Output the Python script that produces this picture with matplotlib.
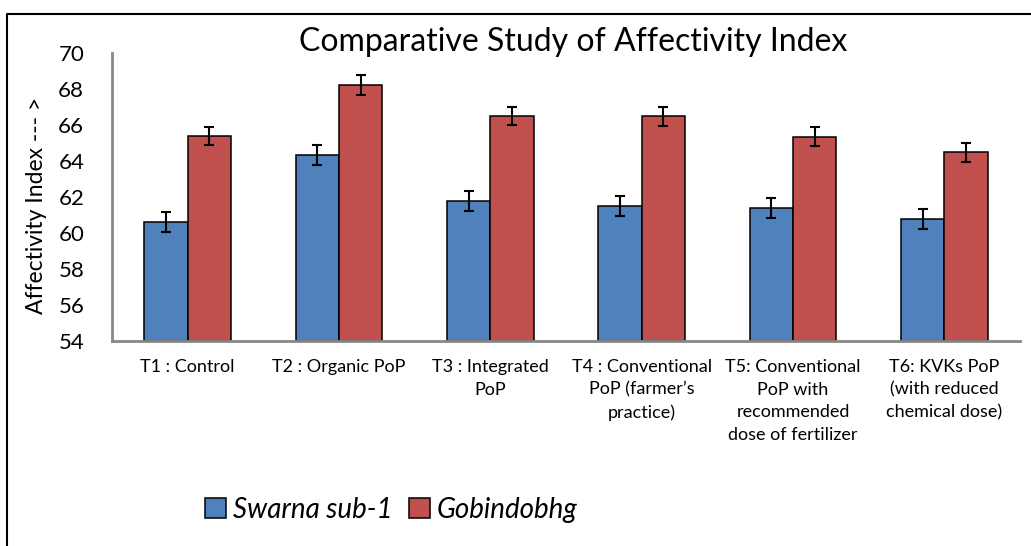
import matplotlib.pyplot as plt
from matplotlib.lines import Line2D
import numpy as np

plt.rcParams['font.family'] = ['Lato', 'DejaVu Sans']

# treatments (x axis)
treatments = ["T1 : Control", "T2 : Organic PoP", "T3 : Integrated\nPoP",
              "T4 : Conventional\nPoP (farmer\u2019s\npractice)",
              "T5: Conventional\nPoP with\nrecommended\ndose of fertilizer",
              "T6: KVKs PoP\n(with reduced\nchemical dose)"]

# affectivity index values
swarna = [60.63, 64.33, 61.78, 61.48, 61.41, 60.80]
gobindobhg = [65.39, 68.22, 66.50, 66.48, 65.35, 64.48]
swarna_err = [0.55, 0.55, 0.55, 0.55, 0.55, 0.55]
gobindobhg_err = [0.52, 0.54, 0.52, 0.52, 0.52, 0.54]

yticks = [54, 56, 58, 60, 62, 64, 66, 68, 70]

fig = plt.figure(figsize=(10.31, 5.46), dpi=100)
ax = fig.add_axes([112/1031, 1-341/546, (1020-112)/1031, (341-53)/546])

x = np.arange(len(treatments))
w = 0.287
err_style = dict(ecolor="black", elinewidth=1.5, capsize=3.8, capthick=1.5)
ax.bar(x - w/2, [v - 54 for v in swarna], w, bottom=54, color="#4F81BD",
       edgecolor="black", linewidth=1.1, label="Swarna sub-1",
       yerr=swarna_err, error_kw=err_style)
ax.bar(x + w/2, [v - 54 for v in gobindobhg], w, bottom=54, color="#C0504D",
       edgecolor="black", linewidth=1.1, label="Gobindobhg",
       yerr=gobindobhg_err, error_kw=err_style)

ax.set_xlim(-0.5, len(treatments) - 0.5)
ax.set_ylim(54, 70)
ax.set_yticks(yticks)
ax.set_xticks(x)
ax.set_xticklabels(treatments, fontsize=13, linespacing=1.5, va="top")
ax.tick_params(axis="x", length=0, pad=13)
ax.tick_params(axis="y", length=0, pad=20, labelsize=16)

for s in ["top", "right"]:
    ax.spines[s].set_visible(False)
for s in ["left", "bottom"]:
    ax.spines[s].set_color("#888888")
    ax.spines[s].set_linewidth(2)

ax.set_ylabel("Affectivity Index --- >", fontsize=16.5)
ax.yaxis.set_label_coords(-0.072, 0.47)
fig.text(573/1031, 1-42/546, "Comparative Study of Affectivity Index",
         fontsize=23, ha="center", va="center")

leg = fig.legend(loc="center left", bbox_to_anchor=(180/1031, 1-510/546),
                 ncol=2, frameon=False, prop={"size": 20, "style": "italic"},
                 handlelength=0.75, handleheight=0.75, handletextpad=0.25,
                 columnspacing=0.6)

# chart frame (top and left edges visible)
fig.add_artist(Line2D([7/1031, 7/1031, 1.0], [0.0, 1-14/546, 1-14/546],
                      transform=fig.transFigure, color="black", linewidth=1.5))

fig.savefig("out.png", dpi=100)
